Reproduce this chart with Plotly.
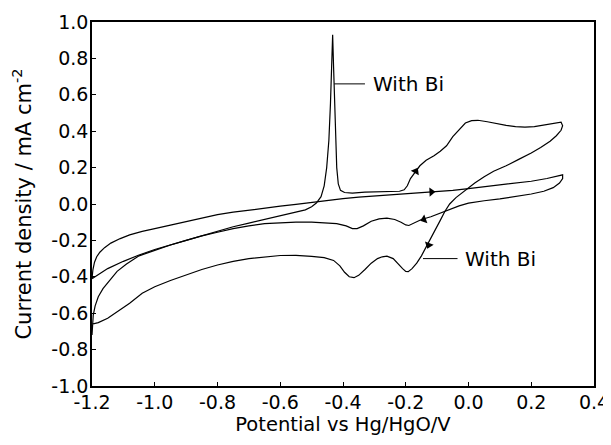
import plotly.graph_objects as go

# ---- data ----
# Curve 1: CV with large anodic spike (full cycle starting at -1.2 V)
cv1_x = [-1.200, -1.199, -1.196, -1.190, -1.180, -1.165, -1.145, -1.12, -1.09, -1.05,
         -1.00, -0.95, -0.90, -0.85, -0.80, -0.75, -0.70, -0.65, -0.60, -0.55,
         -0.52, -0.50, -0.485, -0.47, -0.46, -0.452, -0.445, -0.440, -0.436, -0.433,
         -0.430, -0.427, -0.424, -0.420, -0.415, -0.408, -0.395, -0.37, -0.33, -0.29,
         -0.25, -0.22, -0.205, -0.195, -0.185, -0.17, -0.155, -0.135, -0.11, -0.09,
         -0.07, -0.05, -0.03, -0.01, 0.01, 0.03, 0.06, 0.09, 0.12, 0.15,
         0.18, 0.21, 0.24, 0.27, 0.295, 0.300,
         0.295, 0.28, 0.26, 0.23, 0.20, 0.16, 0.12, 0.08, 0.05, 0.02,
         0.00, -0.02, -0.04, -0.06, -0.075, -0.09, -0.105, -0.12, -0.135, -0.15,
         -0.165, -0.18, -0.192, -0.20, -0.21, -0.225, -0.24, -0.26, -0.275, -0.29,
         -0.31, -0.33, -0.35, -0.365, -0.38, -0.395, -0.41, -0.43, -0.46, -0.50,
         -0.55, -0.60, -0.65, -0.70, -0.75, -0.80, -0.85, -0.90, -0.95, -1.00,
         -1.04, -1.08, -1.12, -1.15, -1.18, -1.20, -1.200]
cv1_y = [-0.72, -0.66, -0.61, -0.56, -0.51, -0.465, -0.42, -0.37, -0.33, -0.285,
         -0.255, -0.225, -0.20, -0.175, -0.15, -0.125, -0.105, -0.085, -0.068, -0.048,
         -0.032, -0.015, 0.005, 0.04, 0.10, 0.20, 0.35, 0.55, 0.75, 0.93,
         0.75, 0.55, 0.35, 0.20, 0.11, 0.075, 0.063, 0.060, 0.065, 0.066,
         0.068, 0.070, 0.078, 0.10, 0.14, 0.175, 0.21, 0.24, 0.265, 0.29,
         0.32, 0.37, 0.41, 0.445, 0.458, 0.46, 0.452, 0.44, 0.432, 0.425,
         0.422, 0.425, 0.433, 0.44, 0.45, 0.43,
         0.405, 0.375, 0.345, 0.31, 0.28, 0.245, 0.21, 0.18, 0.15, 0.115,
         0.09, 0.065, 0.035, 0.00, -0.04, -0.09, -0.14, -0.19, -0.24, -0.285,
         -0.325, -0.355, -0.372, -0.37, -0.355, -0.325, -0.30, -0.287, -0.29, -0.30,
         -0.325, -0.36, -0.392, -0.405, -0.40, -0.375, -0.34, -0.31, -0.295, -0.288,
         -0.282, -0.283, -0.29, -0.30, -0.315, -0.335, -0.36, -0.39, -0.42, -0.455,
         -0.49, -0.545, -0.595, -0.628, -0.652, -0.66, -0.72]

# Curve 2: smaller CV (full cycle starting at -1.2 V)
cv2_x = [-1.200, -1.197, -1.192, -1.185, -1.175, -1.16, -1.14, -1.11, -1.08, -1.04,
         -1.00, -0.95, -0.90, -0.85, -0.80, -0.75, -0.70, -0.65, -0.60, -0.55,
         -0.50, -0.45, -0.40, -0.35, -0.30, -0.25, -0.20, -0.15, -0.10, -0.05,
         0.00, 0.05, 0.10, 0.15, 0.20, 0.25, 0.28, 0.30, 0.30,
         0.29, 0.27, 0.24, 0.20, 0.15, 0.10, 0.05, 0.00, -0.03, -0.06,
         -0.09, -0.12, -0.15, -0.175, -0.19, -0.20, -0.215, -0.235, -0.26, -0.285,
         -0.31, -0.335, -0.355, -0.37, -0.39, -0.42, -0.46, -0.50, -0.55, -0.60,
         -0.65, -0.70, -0.75, -0.80, -0.85, -0.90, -0.95, -1.00, -1.05, -1.10,
         -1.15, -1.20]
cv2_y = [-0.41, -0.36, -0.32, -0.29, -0.265, -0.24, -0.215, -0.19, -0.17, -0.15,
         -0.135, -0.115, -0.095, -0.075, -0.058, -0.045, -0.033, -0.022, -0.012, -0.002,
         0.010, 0.020, 0.030, 0.038, 0.044, 0.050, 0.055, 0.060, 0.067, 0.075,
         0.085, 0.095, 0.105, 0.115, 0.125, 0.14, 0.15, 0.16, 0.14,
         0.115, 0.09, 0.07, 0.055, 0.04, 0.028, 0.018, 0.005, -0.01, -0.03,
         -0.05, -0.07, -0.085, -0.105, -0.118, -0.115, -0.10, -0.085, -0.078, -0.082,
         -0.095, -0.12, -0.135, -0.135, -0.12, -0.108, -0.102, -0.10, -0.10, -0.102,
         -0.108, -0.12, -0.135, -0.155, -0.175, -0.20, -0.225, -0.25, -0.28, -0.315,
         -0.355, -0.41]

# axis ticks
x_tickvals = [-1.2, -1.0, -0.8, -0.6, -0.4, -0.2, 0.0, 0.2, 0.4]
x_ticktext = ["-1.2", "-1.0", "-0.8", "-0.6", "-0.4", "-0.2", "0.0", "0.2", "0.4"]
y_tickvals = [-1.0, -0.8, -0.6, -0.4, -0.2, 0.0, 0.2, 0.4, 0.6, 0.8, 1.0]
y_ticktext = ["-1.0", "-0.8", "-0.6", "-0.4", "-0.2", "0.0", "0.2", "0.4", "0.6", "0.8", "1.0"]

# labels
label_text = "With Bi"
label_top = dict(x0=-0.428, x1=-0.330, y=0.66, tx=-0.312)
label_bot = dict(x0=-0.145, x1=-0.035, y=-0.30, tx=-0.018)

# scan-direction arrowheads on the curves: x, y, pointing angle (deg clockwise from up)
arrow_x = [-0.168, -0.118, -0.142, -0.127]
arrow_y = [0.180, 0.066, -0.085, -0.225]
arrow_angle = [30, 88, 250, 200]

FONT = "DejaVu Sans"

fig = go.Figure()
for xs, ys in [(cv1_x, cv1_y), (cv2_x, cv2_y)]:
    fig.add_trace(go.Scatter(x=xs, y=ys, mode="lines",
                             line=dict(color="black", width=1.2),
                             showlegend=False, hoverinfo="skip"))

fig.add_trace(go.Scatter(x=arrow_x, y=arrow_y, mode="markers",
                         marker=dict(symbol="triangle-up", size=8, color="black",
                                     angle=arrow_angle, line=dict(width=0)),
                         showlegend=False, hoverinfo="skip"))

for lab in (label_top, label_bot):
    fig.add_shape(type="line", x0=lab["x0"], x1=lab["x1"], y0=lab["y"], y1=lab["y"],
                  xref="x", yref="y", line=dict(color="black", width=1))
    fig.add_annotation(x=lab["tx"], y=lab["y"], text=label_text, showarrow=False,
                       xanchor="left", yanchor="middle",
                       font=dict(family=FONT, size=20, color="black"))

axis_common = dict(showline=True, linecolor="black", linewidth=1.5, mirror=True,
                   ticks="inside", ticklen=4, tickwidth=1, tickcolor="black",
                   showgrid=False, zeroline=False, automargin=False,
                   tickfont=dict(family=FONT, size=19, color="black"))

fig.update_xaxes(range=[-1.2, 0.4], tickvals=x_tickvals, ticktext=x_ticktext,
                 ticklabelstandoff=-2,
                 title=dict(text="Potential vs Hg/HgO/V", standoff=1,
                            font=dict(family=FONT, size=19.5, color="black")),
                 **axis_common)
fig.update_yaxes(range=[-1.0, 1.0], tickvals=y_tickvals, ticktext=y_ticktext,
                 ticklabelstandoff=-2,
                 title=dict(text="Current density / mA cm<sup>-2</sup>", standoff=18,
                            font=dict(family=FONT, size=21, color="black")),
                 **axis_common)

# the page body adds an 8 px offset, so the figure is 8 px smaller and margins shifted
fig.update_layout(width=603, height=437,
                  margin=dict(l=84, r=17, t=14, b=59),
                  plot_bgcolor="white", paper_bgcolor="white",
                  font=dict(family=FONT, color="black"))

fig.write_html("out.html")
